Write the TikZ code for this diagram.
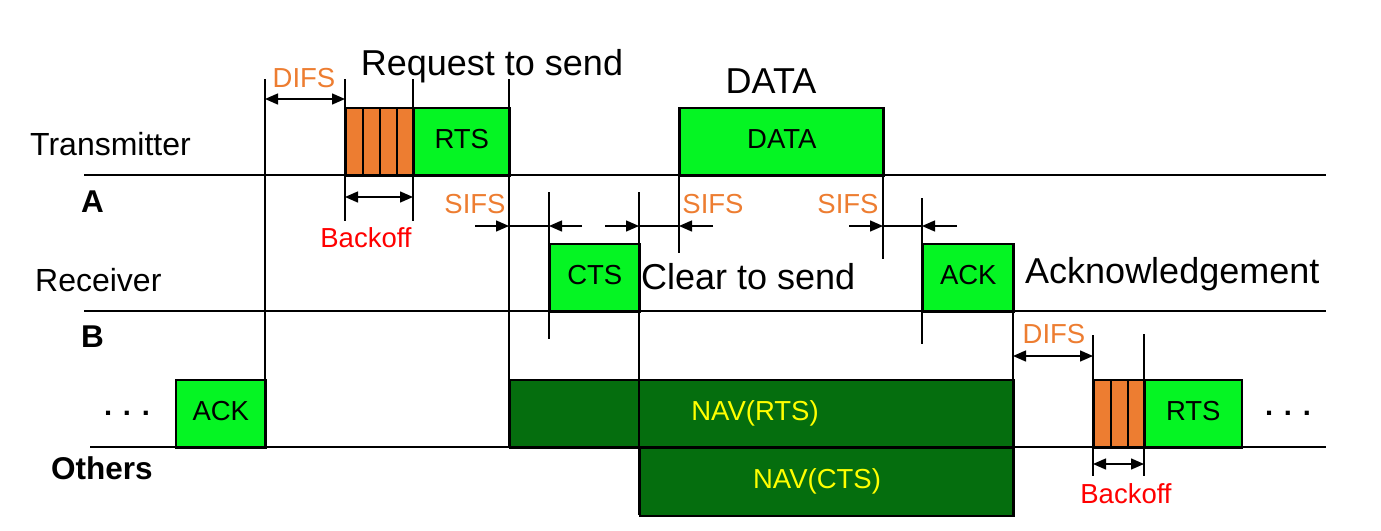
\documentclass[tikz,border=0pt]{standalone}
\usepackage{fontspec}
\setmainfont{Liberation Sans}
\usetikzlibrary{arrows.meta}
\definecolor{bgreen}{RGB}{5,245,35}
\definecolor{dgreen}{RGB}{5,110,14}
\definecolor{orng}{RGB}{237,125,49}
\definecolor{yel}{RGB}{255,255,0}
\newcommand\fsmall{\fontsize{27.5}{30}\selectfont}
\newcommand\fside{\fontsize{32}{34}\selectfont}
\newcommand\fbig{\fontsize{36}{38}\selectfont}
\newcommand\fbold{\fontsize{31.5}{33}\selectfont\bfseries}
\newcommand\fdots{\fontsize{29}{30}\selectfont\bfseries}
\begin{document}
\begin{tikzpicture}[x=1pt,y=-1pt,
  frame/.style={draw=black,line width=1.6pt,inner sep=0pt,anchor=north west,font=\fsmall,text height=20pt,text depth=6pt},
  gbox/.style={frame,fill=bgreen},
  navbox/.style={frame,fill=dgreen,text=yel},
  slot/.style={frame,fill=orng,minimum width=17pt,minimum height=68pt},
  baseln/.style={line width=2.8pt},
  vline/.style={line width=1.4pt},
  dim/.style={line width=1.4pt,{Triangle[length=13pt,width=11pt]}-{Triangle[length=13pt,width=11pt]}},
  arr/.style={line width=1.4pt,-{Triangle[length=13pt,width=11pt]}},
  plain/.style={line width=1.4pt},
  lab/.style={inner sep=0pt,anchor=base},
  labw/.style={inner sep=0pt,anchor=base west}]
\useasboundingbox (0,0) rectangle (1381,530);

% boxes
\node[slot] (s1) at (345,107) {};
\node[slot] (s2) at (362,107) {};
\node[slot] (s3) at (379,107) {};
\node[slot] (s4) at (396,107) {};
\node[gbox,minimum width=96pt,minimum height=68pt] (rts) at (413,107) {RTS};
\node[gbox,minimum width=204pt,minimum height=68pt] (data) at (679,107) {DATA};
\node[gbox,minimum width=90pt,minimum height=68pt] (cts) at (549,243) {CTS};
\node[gbox,minimum width=91pt,minimum height=68pt] (ack) at (922,243) {ACK};
\node[gbox,minimum width=90pt,minimum height=68pt] (ack0) at (175,379) {ACK};
\node[navbox,minimum width=504pt,minimum height=68pt] (navr) at (509,379) {};
\node[navbox,minimum width=374pt,minimum height=68pt] (navc) at (639,447) {};
\node[slot] (r1) at (1093,379) {};
\node[slot] (r2) at (1110,379) {};
\node[slot] (r3) at (1127,379) {};
\node[gbox,minimum width=97pt,minimum height=68pt] (rts2) at (1144,379) {RTS};

% time lines
\coordinate (aL) at (84,175);  \coordinate (aR) at (1326,175);
\coordinate (bL) at (84,311);  \coordinate (bR) at (1326,311);
\coordinate (cL) at (90,447);  \coordinate (cR) at (1326,447);
\draw[baseln] (aL) -- (aR);
\draw[baseln] (bL) -- (bR);
\draw[baseln] (cL) -- (cR);

% vertical guides
\draw[vline] (265,79) -- (265,447);
\draw[vline] (345,79) -- (345,221);
\draw[vline] (413,79) -- (413,221);
\draw[vline] (509,79) -- (509,447);
\draw[vline] (549,192) -- (549,339);
\draw[vline] (639,192) -- (639,515);
\draw[vline] (679,107) -- (679,253);
\draw[vline] (883,107) -- (883,259);
\draw[vline] (922,198) -- (922,344);
\draw[vline] (1013,243) -- (1013,515);
\draw[vline] (1093,335) -- (1093,476);
\draw[vline] (1144,334) -- (1144,476);

% dimension arrows
\coordinate (d1a) at (265,99);  \coordinate (d1b) at (345,99);
\coordinate (k1a) at (345,197); \coordinate (k1b) at (413,197);
\draw[dim] (d1a) -- (d1b);
\draw[dim] (k1a) -- (k1b);
\coordinate (p1) at (475,226); \coordinate (p2) at (509,226); \coordinate (p3) at (549,226); \coordinate (p4) at (582,226);
\draw[arr] (p1) -- (p2); \draw[plain] (p2) -- (p3); \draw[arr] (p4) -- (p3);
\coordinate (q1) at (605,226); \coordinate (q2) at (639,226); \coordinate (q3) at (679,226); \coordinate (q4) at (713,226);
\draw[arr] (q1) -- (q2); \draw[plain] (q2) -- (q3); \draw[arr] (q4) -- (q3);
\coordinate (u1) at (849,226); \coordinate (u2) at (883,226); \coordinate (u3) at (922,226); \coordinate (u4) at (957,226);
\draw[arr] (u1) -- (u2); \draw[plain] (u2) -- (u3); \draw[arr] (u4) -- (u3);
\coordinate (d2a) at (1013,356); \coordinate (d2b) at (1093,356);
\coordinate (k2a) at (1093,464); \coordinate (k2b) at (1144,464);
\draw[dim] (d2a) -- (d2b);
\draw[dim] (k2a) -- (k2b);

% labels
\node[lab,font=\fsmall,text=orng] (difs1) at (304,87) {DIFS};
\node[lab,font=\fbig] (req) at (492,75) {Request to send};
\node[lab,font=\fbig] (datal) at (771,93) {DATA};
\node[labw,font=\fside] (tx) at (30,155) {Transmitter};
\node[labw,font=\fbold] (la) at (81,212) {A};
\node[labw,font=\fside] (rx) at (35,291) {Receiver};
\node[labw,font=\fbold] (lb) at (81,347) {B};
\node[labw,font=\fbold] (lo) at (51,479) {Others};
\node[lab,font=\fsmall,text=red] (bo1) at (366,247) {Backoff};
\node[lab,font=\fsmall,text=orng] (sifs1) at (475,213) {SIFS};
\node[lab,font=\fsmall,text=orng] (sifs2) at (713,213) {SIFS};
\node[lab,font=\fsmall,text=orng] (sifs3) at (848,213) {SIFS};
\node[labw,font=\fbig] (clr) at (641,289) {Clear to send};
\node[labw,font=\fbig] (ackl) at (1025,283) {Acknowledgement};
\node[lab,font=\fsmall,text=yel] (navrl) at (755,420) {NAV(RTS)};
\node[lab,font=\fsmall,text=yel] (navcl) at (817,488) {NAV(CTS)};
\node[lab,font=\fsmall,text=orng] (difs2) at (1054,343) {DIFS};
\node[lab,font=\fsmall,text=red] (bo2) at (1126,503) {Backoff};
\node[lab,font=\fdots] (dotsl) at (127,415) {. . .};
\node[lab,font=\fdots] (dotsr) at (1288,415) {. . .};
\end{tikzpicture}
\end{document}
